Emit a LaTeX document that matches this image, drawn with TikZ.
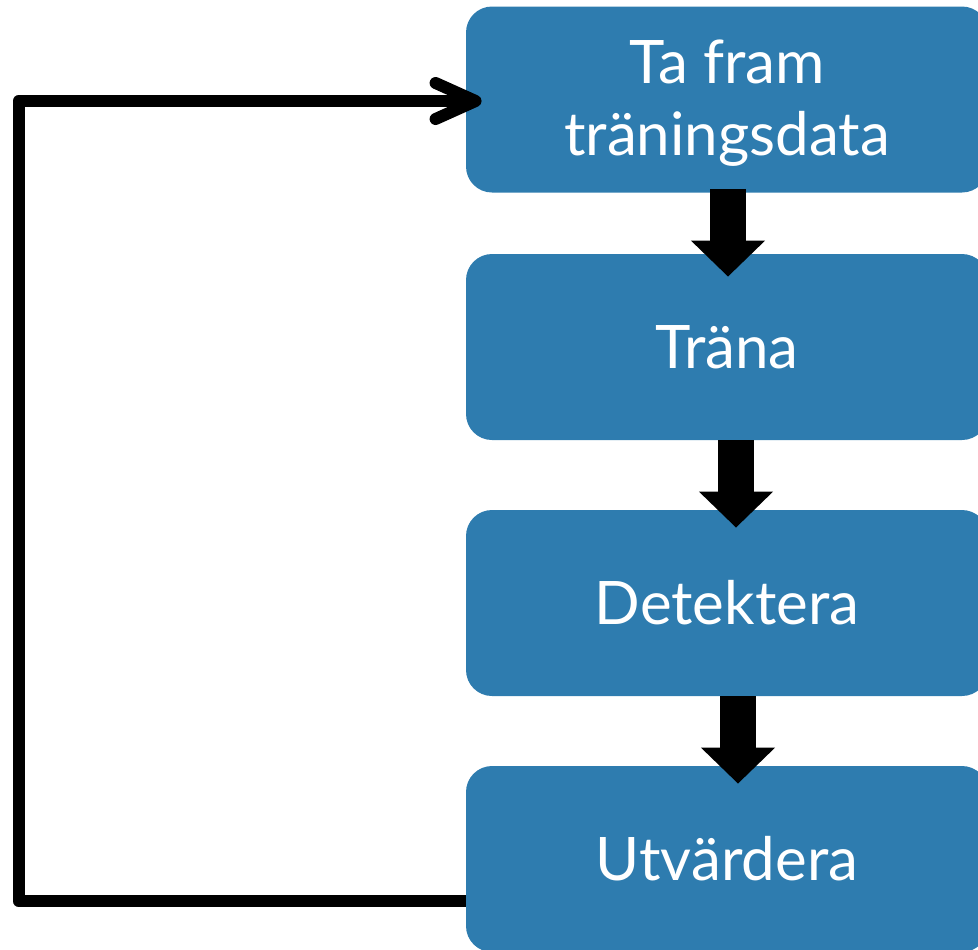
\documentclass[tikz,border=0pt]{standalone}
\usepackage{fontspec}
\setmainfont{Lato}
\usetikzlibrary{arrows.meta}
\definecolor{boxblue}{RGB}{46,124,175}

\begin{document}
\begin{tikzpicture}[x=0.5pt,y=-0.5pt,
  stepbox/.style={fill=boxblue,rounded corners=13pt,minimum width=261pt,minimum height=93pt,
    inner sep=0pt,align=center,text=white,font=\fontsize{30}{36}\selectfont},
  blockarrow/.style={line width=18pt,-{Triangle[width=36pt,length=18pt]}},
  back/.style={line width=6pt,line join=round,
    -{Straight Barb[length=20pt,width=18pt,line cap=round,line join=round]}}]
\useasboundingbox (0,0) rectangle (978,949);
\node[stepbox] (data) at (727,99.5) {\rule{0pt}{25pt}Ta fram\\träningsdata};
\node[stepbox] (train) at (727,347) {Träna};
\node[stepbox] (detect) at (727,603) {Detektera};
\node[stepbox] (eval) at (727,859) {Utvärdera};
\draw[blockarrow] ([xshift=0.5pt,yshift=2pt]data.south) -- ([xshift=0.5pt,yshift=-11.5pt]train.north);
\draw[blockarrow] ([xshift=4.5pt]train.south) -- ([xshift=4.5pt,yshift=-9pt]detect.north);
\draw[blockarrow] ([xshift=5.5pt]detect.south) -- ([xshift=5.5pt,yshift=-9pt]eval.north);
\coordinate (corner) at (18.5,101);
\draw[back] ([yshift=-21pt]eval.west) -| (corner) -- ([xshift=8pt]data.west |- corner);
\end{tikzpicture}
\end{document}
